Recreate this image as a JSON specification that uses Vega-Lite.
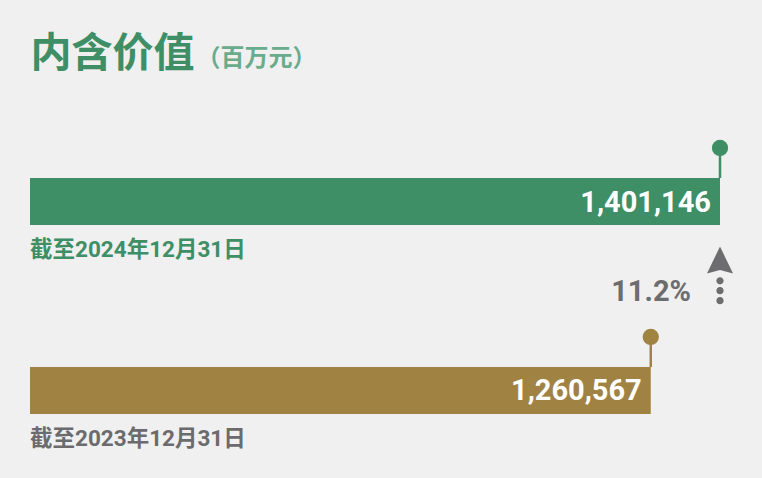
{
  "$schema": "https://vega.github.io/schema/vega-lite/v6.json",
  "width": 690,
  "height": 388,
  "autosize": "none",
  "padding": {"left": 30, "top": 90, "right": 42, "bottom": 0},
  "background": "#f0f0f0",
  "config": {"view": {"stroke": null}, "font": "Roboto, Noto Sans CJK SC"},
  "data": {
    "values": [
      {"period": "截至2024年12月31日", "year": "2024", "value": 1401146, "label": "1,401,146", "change": "11.2%"},
      {"period": "截至2023年12月31日", "year": "2023", "value": 1260567, "label": "1,260,567", "change": null}
    ]
  },
  "encoding": {
    "x": {
      "field": "value",
      "type": "quantitative",
      "scale": {"domain": [0, 1401146], "nice": false, "zero": true},
      "axis": {
        "orient": "top",
        "title": "内含价值",
        "titleFont": "Noto Sans CJK SC",
        "titleFontSize": 41,
        "titleFontWeight": "bold",
        "titleColor": "#3e8e66",
        "titleX": 0,
        "titleY": -36,
        "titleAlign": "left",
        "titleBaseline": "middle",
        "titleAngle": 0,
        "labels": false,
        "ticks": false,
        "domain": false,
        "grid": false
      }
    },
    "y": {
      "field": "period",
      "type": "nominal",
      "sort": null,
      "scale": {"paddingInner": 0.751, "paddingOuter": 0.402, "align": 0.579},
      "axis": {
        "title": "（百万元）",
        "titleFont": "Noto Sans CJK SC",
        "titleFontSize": 24,
        "titleFontWeight": "bold",
        "titleColor": "#6aab8b",
        "titleX": 166,
        "titleY": -32,
        "titleAlign": "left",
        "titleBaseline": "middle",
        "titleAngle": 0,
        "labels": false,
        "ticks": false,
        "domain": false,
        "grid": false
      }
    },
    "color": {
      "field": "year",
      "type": "nominal",
      "scale": {"domain": ["2024", "2023"], "range": ["#3e8e66", "#a08243"]},
      "legend": null
    }
  },
  "layer": [
    {"mark": {"type": "bar"}},
    {
      "mark": {"type": "rule", "strokeWidth": 2.5, "yOffset": -30, "y2Offset": 0},
      "encoding": {
        "y": {"field": "period", "type": "nominal", "bandPosition": 0},
        "y2": {"field": "period", "bandPosition": 0}
      }
    },
    {
      "mark": {"type": "circle", "size": 265, "opacity": 1, "yOffset": -30},
      "encoding": {
        "y": {"field": "period", "type": "nominal", "bandPosition": 0}
      }
    },
    {
      "mark": {"type": "text", "align": "right", "baseline": "middle", "dx": -9, "dy": 1, "fontSize": 29, "fontWeight": "bold", "font": "Roboto"},
      "encoding": {
        "text": {"field": "label"},
        "color": {"value": "#ffffff"}
      }
    },
    {
      "mark": {"type": "text", "align": "left", "baseline": "middle", "dy": 25, "fontSize": 22.5, "fontWeight": "bold"},
      "encoding": {
        "x": {"datum": 0},
        "y": {"field": "period", "type": "nominal", "bandPosition": 1},
        "text": {"field": "period"},
        "color": {"condition": {"test": "datum.year === '2024'", "value": "#3e8e66"}, "value": "#6b6b6d"}
      }
    },
    {
      "transform": [{"filter": "datum.change != null"}],
      "mark": {"type": "text", "align": "right", "baseline": "middle", "dx": -29, "dy": 67, "fontSize": 29, "fontWeight": "bold", "font": "Roboto"},
      "encoding": {
        "y": {"field": "period", "type": "nominal", "bandPosition": 1},
        "text": {"field": "change"},
        "color": {"value": "#6d6d6f"}
      }
    },
    {
      "transform": [{"filter": "datum.change != null"}],
      "mark": {
        "type": "point",
        "shape": "M0,-1L0.45,-0.07L0,-0.19L-0.45,-0.07Z M-0.125,0.18a0.125,0.125 0 1,0 0.25,0a0.125,0.125 0 1,0 -0.25,0Z M-0.125,0.524a0.125,0.125 0 1,0 0.25,0a0.125,0.125 0 1,0 -0.25,0Z M-0.125,0.869a0.125,0.125 0 1,0 0.25,0a0.125,0.125 0 1,0 -0.25,0Z",
        "size": 3364,
        "filled": true,
        "opacity": 1,
        "strokeWidth": 0,
        "yOffset": 50.5
      },
      "encoding": {
        "y": {"field": "period", "type": "nominal", "bandPosition": 1},
        "color": {"value": "#6d6d6f"}
      }
    }
  ]
}
